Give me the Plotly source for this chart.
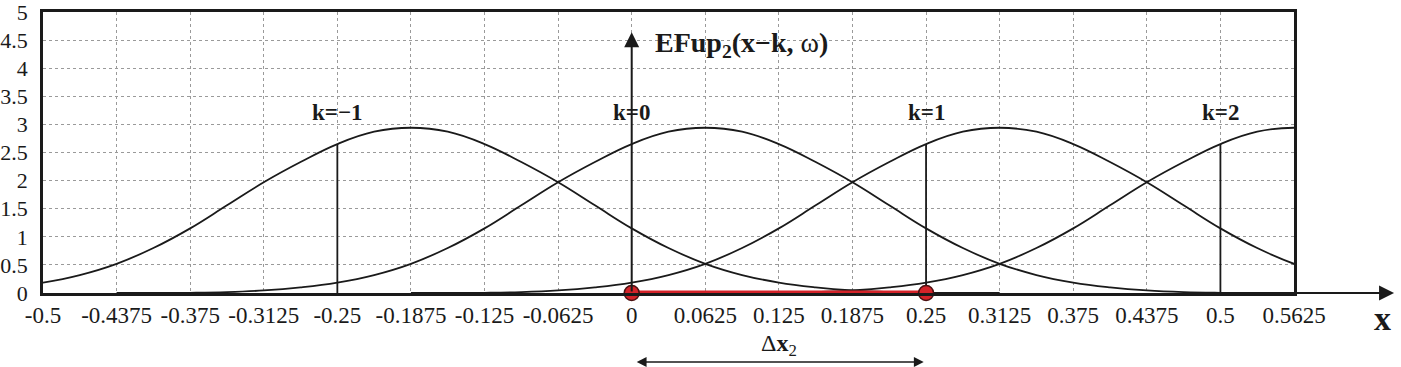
import plotly.graph_objects as go

# ---- data ----
K_VALUES = [-1, 0, 1, 2]
K_LABELS = ["k=\u22121", "k=0", "k=1", "k=2"]
SHIFT_STEP = 0.25          # spacing between neighbouring curves (Δx2)
PEAK_OFFSET = 0.0625       # peak of curve k lies at 0.25*k + 0.0625

# one bell profile (offset from its peak -> value)
PROFILE_D = [-0.5, -0.46875, -0.4375, -0.40625, -0.375, -0.34375, -0.3125, -0.28125,
             -0.25, -0.21875, -0.1875, -0.15625, -0.125, -0.09375, -0.0625, -0.03125,
             0.0,
             0.03125, 0.0625, 0.09375, 0.125, 0.15625, 0.1875, 0.21875, 0.25,
             0.28125, 0.3125, 0.34375, 0.375, 0.40625, 0.4375, 0.46875, 0.5]
PROFILE_Y = [0.0, 0.0, 0.004, 0.016, 0.045, 0.10, 0.185, 0.32,
             0.52, 0.80, 1.15, 1.56, 1.97, 2.33, 2.65, 2.87,
             2.94,
             2.87, 2.65, 2.33, 1.97, 1.56, 1.15, 0.80, 0.52,
             0.32, 0.185, 0.10, 0.045, 0.016, 0.004, 0.0, 0.0]

NODE_X = [-0.25, 0.25, 0.5]      # thin vertical lines
NODE_H = 2.65
SEGMENT_X = [0.0, 0.25]          # red segment
SEGMENT_Y = [0.0, 0.0]

X_TICKS = [-0.5, -0.4375, -0.375, -0.3125, -0.25, -0.1875, -0.125, -0.0625, 0.0,
           0.0625, 0.125, 0.1875, 0.25, 0.3125, 0.375, 0.4375, 0.5, 0.5625]
X_TICKTEXT = ["-0.5", "-0.4375", "-0.375", "-0.3125", "-0.25", "-0.1875", "-0.125",
              "-0.0625", "0", "0.0625", "0.125", "0.1875", "0.25", "0.3125", "0.375",
              "0.4375", "0.5", "0.5625"]
Y_TICKS = [0, 0.5, 1, 1.5, 2, 2.5, 3, 3.5, 4, 4.5, 5]
Y_TICKTEXT = ["0", "0.5", "1", "1.5", "2", "2.5", "3", "3.5", "4", "4.5", "5"]

X_MIN, X_MAX = -0.5, 0.5625
Y_MIN, Y_MAX = 0, 5
X_ARROW_END = 0.6475
Y_ARROW_END = 4.64

FONT = "Liberation Serif"
INK = "#1a1a1a"

fig = go.Figure()

for k in K_VALUES:
    c = SHIFT_STEP * k + PEAK_OFFSET
    xs = [d + c for d in PROFILE_D]
    fig.add_trace(go.Scatter(x=xs, y=PROFILE_Y, mode="lines",
                             line=dict(color=INK, width=1.8, shape="spline", smoothing=1.2),
                             hoverinfo="skip", showlegend=False))

for xv in NODE_X:
    fig.add_trace(go.Scatter(x=[xv, xv], y=[0, NODE_H], mode="lines",
                             line=dict(color=INK, width=1.8),
                             hoverinfo="skip", showlegend=False))

fig.add_trace(go.Scatter(x=SEGMENT_X, y=SEGMENT_Y, mode="lines+markers",
                         line=dict(color="#d42329", width=5),
                         marker=dict(size=15, color="#d42329",
                                     line=dict(color="#4a1010", width=1.5)),
                         cliponaxis=False, hoverinfo="skip", showlegend=False))

annotations = []
# x axis arrow
annotations.append(dict(x=X_ARROW_END, y=0, xref="x", yref="y",
                        ax=X_MAX, ay=0, axref="x", ayref="y",
                        showarrow=True, arrowhead=2, arrowsize=1.5, arrowwidth=2,
                        arrowcolor=INK, text=""))
# vertical arrow at x=0
annotations.append(dict(x=0, y=Y_ARROW_END, xref="x", yref="y",
                        ax=0, ay=0, axref="x", ayref="y",
                        showarrow=True, arrowhead=2, arrowsize=1.5, arrowwidth=2,
                        arrowcolor=INK, text=""))
# Δx2 double arrow (below the axis, paper y)
annotations.append(dict(x=SEGMENT_X[1] - 0.002, y=-0.2456, xref="x", yref="paper",
                        ax=SEGMENT_X[0] + 0.003, axref="x", ay=0, ayref="pixel",
                        showarrow=True, arrowhead=2, startarrowhead=2, arrowside="end+start",
                        arrowsize=1.4, startarrowsize=1.4, arrowwidth=1.4,
                        arrowcolor=INK, text=""))
annotations.append(dict(x=0.125, y=-0.185, xref="x", yref="paper", showarrow=False,
                        yanchor="middle",
                        text="\u0394<b>x</b><sub>2</sub>",
                        font=dict(family=FONT, size=24, color=INK)))
# function label
annotations.append(dict(x=0.0185, y=4.43, xref="x", yref="y", showarrow=False,
                        xanchor="left", yanchor="middle",
                        text="<b>EFup<sub>2</sub>(x\u2212k, </b>\u03c9<b>)</b>",
                        font=dict(family=FONT, size=28, color=INK)))
for k, lab in zip(K_VALUES, K_LABELS):
    annotations.append(dict(x=SHIFT_STEP * k, y=3.22, xref="x", yref="y", showarrow=False,
                            text="<b>" + lab + "</b>",
                            font=dict(family=FONT, size=23, color=INK)))
# axis name "x"
annotations.append(dict(x=1.071, y=-0.092, xref="paper", yref="paper", showarrow=False,
                        xanchor="center", yanchor="middle",
                        text="<b>x</b>", font=dict(family=FONT, size=34, color=INK)))

fig.update_layout(
    width=1401, height=367,
    margin=dict(l=43, r=107, t=12, b=74, autoexpand=False),
    paper_bgcolor="white", plot_bgcolor="white",
    font=dict(family=FONT, size=23, color=INK),
    annotations=annotations,
    xaxis=dict(range=[X_MIN, X_MAX], tickmode="array", tickvals=X_TICKS, ticktext=X_TICKTEXT,
               showgrid=True, gridcolor="#9a9a9a", griddash="dot", gridwidth=1,
               showline=True, linecolor=INK, linewidth=2.5, mirror=True,
               ticks="", zeroline=False, ticklabelstandoff=0, automargin=False,
               ticklabeloverflow="allow",
               tickfont=dict(family=FONT, size=23, color=INK)),
    yaxis=dict(range=[Y_MIN, Y_MAX], tickmode="array", tickvals=Y_TICKS, ticktext=Y_TICKTEXT,
               showgrid=True, gridcolor="#9a9a9a", griddash="dot", gridwidth=1,
               showline=True, linecolor=INK, linewidth=2.5, mirror=True,
               ticks="", zeroline=False, ticklabelstandoff=8, automargin=False,
               ticklabeloverflow="allow",
               tickfont=dict(family=FONT, size=22, color=INK)),
)

fig.write_html("out.html", config={"displayModeBar": False},
               post_script="document.body.style.margin='0';document.body.style.overflow='hidden';")
